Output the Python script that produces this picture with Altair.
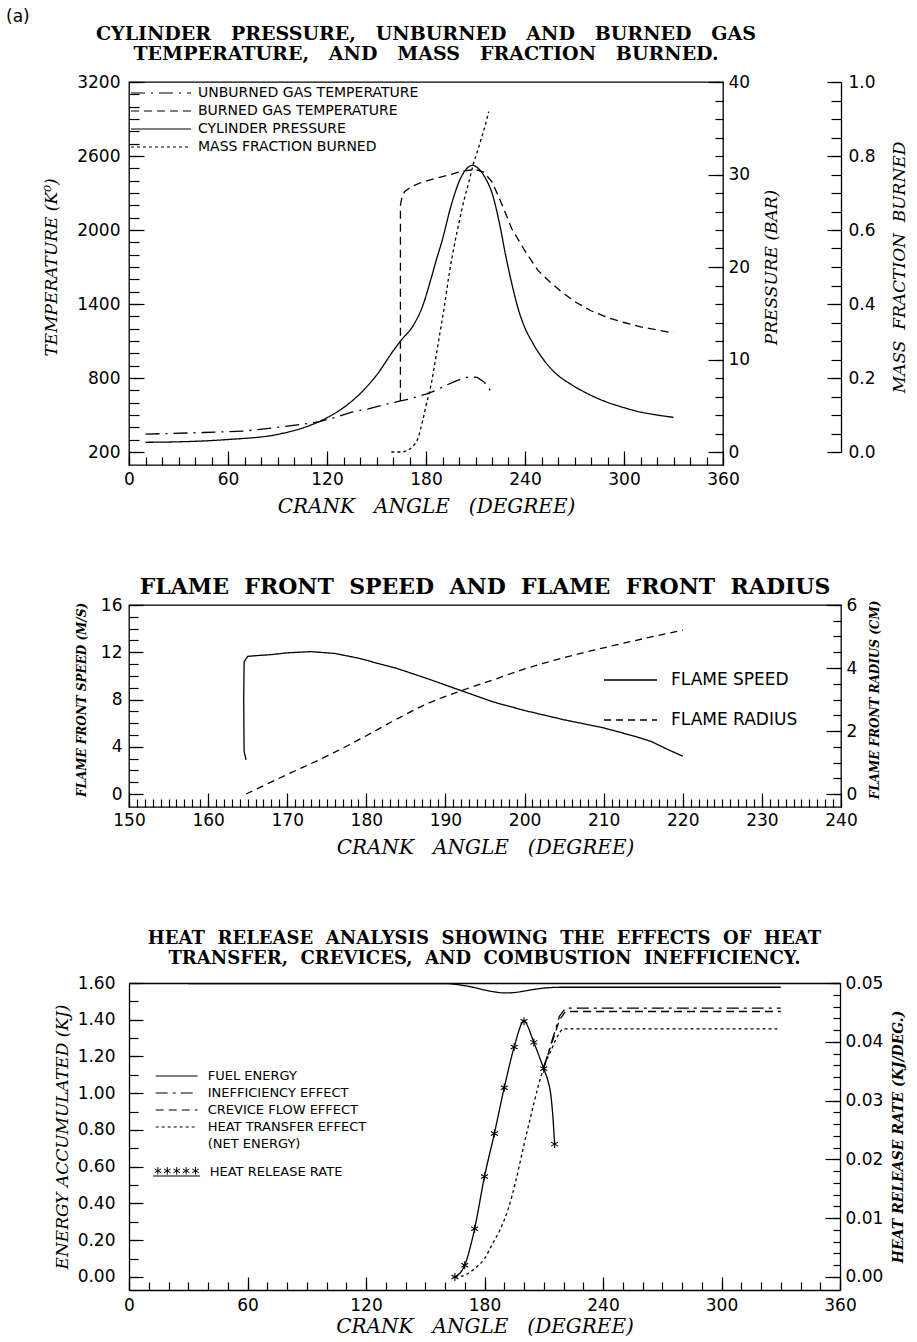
import altair as alt
import pandas as pd

SANS = "DejaVu Sans"
SERIF = "DejaVu Serif"
NB = "\u00a0"


def sp(text, n=2):
    return text.replace(" ", NB * n)


# ---------------- Panel 1 data ----------------
p1_unb_ca = [10, 25, 45, 70, 92, 105, 115, 125, 135, 145, 153, 160, 164.5, 170, 175, 180, 186, 192, 198, 203, 207, 211, 215, 218, 220]
p1_unb_T = [345, 350, 358, 370, 403, 425, 445, 480, 523, 550, 578, 600, 615, 630, 650, 670, 700, 740, 775, 800, 810, 805, 770, 720, 670]
p1_brn_ca = [164.5, 164.5, 165.5, 167, 171, 178, 185, 195, 203, 210, 215, 220, 225, 232, 240, 248, 255, 262, 270, 280, 290, 300, 310, 320, 330]
p1_brn_T = [615, 2200, 2270, 2310, 2350, 2390, 2415, 2450, 2480, 2490, 2470, 2390, 2240, 2010, 1830, 1670, 1580, 1500, 1420, 1345, 1290, 1250, 1215, 1190, 1165]
p1_p_ca = [10, 30, 60, 90, 110, 120, 130, 140, 150, 160, 165, 172, 178, 183, 186, 190, 195, 200, 205, 208, 212, 216, 220, 225, 228, 232, 236, 240, 244, 248, 252, 258, 268, 278, 288, 298, 308, 320, 330]
p1_p = [1.05, 1.1, 1.35, 1.9, 2.9, 3.7, 4.8, 6.3, 8.3, 10.9, 12.1, 13.6, 15.8, 18.7, 20.6, 23.0, 26.5, 29.2, 30.7, 31.0, 30.6, 29.6, 28.0, 24.3, 21.5, 18.2, 15.4, 13.4, 12.0, 10.8, 9.8, 8.6, 7.3, 6.3, 5.5, 4.9, 4.4, 4.0, 3.75]
p1_m_ca = [159, 165, 169, 172, 175, 178, 180, 183, 185, 188, 191, 194, 197, 200, 203, 206, 208.5, 211, 213.5, 216, 218]
p1_m = [0, 0, 0.005, 0.015, 0.036, 0.085, 0.125, 0.18, 0.23, 0.31, 0.39, 0.48, 0.555, 0.62, 0.68, 0.73, 0.775, 0.81, 0.847, 0.885, 0.92]
p1_names = ["UNBURNED GAS TEMPERATURE", "BURNED GAS TEMPERATURE", "CYLINDER PRESSURE", "MASS FRACTION BURNED"]
p1_dashes = [[14, 6, 2, 6], [8, 5], [1, 0], [3, 3]]

p1_x_major = [0, 60, 120, 180, 240, 300, 360]
p1_x_minor = list(range(0, 361, 10))
p1_T_major = [200, 800, 1400, 2000, 2600, 3200]
p1_T_minor = list(range(200, 3201, 100))
p1_P_major = [0, 10, 20, 30, 40]
p1_P_minor = list(range(0, 41, 2))
p1_M_major = [0.0, 0.2, 0.4, 0.6, 0.8, 1.0]
p1_M_minor = [round(0.05 * k, 2) for k in range(21)]

# ---------------- Panel 2 data ----------------
p2_s_ca = [164.8, 164.55, 164.5, 164.55, 165.0, 165.8, 168, 170, 173, 176, 179, 184, 188, 192, 196, 200, 205, 210, 214, 216, 218, 220]
p2_s = [2.9, 3.6, 8.0, 11.2, 11.65, 11.7, 11.8, 11.95, 12.05, 11.9, 11.5, 10.6, 9.7, 8.75, 7.8, 7.07, 6.28, 5.6, 4.87, 4.45, 3.8, 3.2]
p2_r_ca = [164.8, 170, 175, 180, 184, 188, 192, 196, 200, 205, 210, 215, 220]
p2_r = [0.0, 0.62, 1.2, 1.85, 2.4, 2.9, 3.28, 3.62, 3.97, 4.33, 4.64, 4.93, 5.2]
p2_names = ["FLAME SPEED", "FLAME RADIUS"]
p2_dashes = [[1, 0], [7, 5]]

p2_x_major = list(range(150, 241, 10))
p2_x_minor = list(range(150, 241, 1))
p2_S_major = [0, 4, 8, 12, 16]
p2_S_minor = list(range(0, 17, 1))
p2_R_major = [0, 2, 4, 6]
p2_R_minor = [0.5 * k for k in range(13)]

# ---------------- Panel 3 data ----------------
p3_fuel_ca = [30, 160, 165, 170, 175, 180, 185, 190, 195, 200, 205, 210, 215, 220, 330]
p3_fuel = [1.597, 1.597, 1.593, 1.585, 1.575, 1.562, 1.552, 1.546, 1.548, 1.556, 1.565, 1.572, 1.576, 1.577, 1.577]
p3_ineff_ca = [210, 214, 218, 221, 330]
p3_ineff = [1.14, 1.28, 1.42, 1.463, 1.463]
p3_crev_ca = [210, 214, 218, 221, 330]
p3_crev = [1.14, 1.27, 1.40, 1.445, 1.445]
p3_net_ca = [165, 168, 171, 175, 180, 184, 188, 192, 196, 200, 204, 207, 210, 214, 217, 220, 330]
p3_net = [0, 0.003, 0.015, 0.045, 0.1, 0.18, 0.26, 0.37, 0.53, 0.72, 0.9, 1.03, 1.14, 1.24, 1.31, 1.35, 1.35]
p3_hrr_line_ca = [165, 170, 175, 180, 185, 190, 195, 200, 205, 210, 212, 213.5, 214.8, 215.5]
p3_hrr_line = [0, 0.002, 0.0082, 0.0171, 0.0244, 0.0322, 0.0391, 0.0435, 0.0399, 0.0354, 0.0335, 0.0312, 0.0265, 0.0226]
p3_hrr_pt_ca = [165, 170, 175, 180, 185, 190, 195, 200, 205, 210, 215.5]
p3_hrr_pt = [0, 0.002, 0.0082, 0.0171, 0.0244, 0.0322, 0.0391, 0.0435, 0.0399, 0.0354, 0.0226]
p3_names = ["FUEL ENERGY", "INEFFICIENCY EFFECT", "CREVICE FLOW EFFECT", "HEAT TRANSFER EFFECT", "(NET ENERGY)"]
p3_dashes = [[1, 0], [12, 5, 3, 5], [8, 5], [3, 3], [0, 100]]
p3_hrr_name = "HEAT RELEASE RATE"

p3_x_major = [0, 60, 120, 180, 240, 300, 360]
p3_x_minor = list(range(0, 361, 10))
p3_E_major = [0.0, 0.2, 0.4, 0.6, 0.8, 1.0, 1.2, 1.4, 1.6]
p3_E_minor = [round(0.1 * k, 1) for k in range(17)]
p3_R_major = [0.0, 0.01, 0.02, 0.03, 0.04, 0.05]
p3_R_minor = [round(0.002 * k, 3) for k in range(26)]


def frame(ca, v, series):
    return pd.DataFrame({"ca": ca, "v": v, "series": series, "i": list(range(len(ca)))})


BASE = dict(grid=False, tickColor="black", tickWidth=1.2, labelColor="black", titleColor="black",
            labelFlush=False, labelOverlap=False, minExtent=0, domainColor="black", domainWidth=1.3)


def tick_axis(orient, values, size, off=0, labels=False, pad=4, fmt=None, title=None, **kw):
    d = dict(BASE)
    d.update(orient=orient, values=values, tickSize=size, offset=off - size, domain=False, labels=labels)
    if labels:
        d["labelPadding"] = pad
        if fmt:
            d["format"] = fmt
    d["title"] = title
    d.update(kw)
    return alt.Axis(**d)


def domain_axis(orient, off=0):
    d = dict(BASE)
    d.update(orient=orient, offset=off, ticks=False, labels=False, domain=True, title=None)
    return alt.Axis(**d)


def layer(df, xs, ys, xaxis, yaxis, dash=None, **mark):
    enc = dict(x=alt.X("ca:Q", scale=xs, axis=xaxis),
               y=alt.Y("v:Q", scale=ys, axis=yaxis),
               order=alt.Order("i:Q"))
    if dash is not None:
        enc["strokeDash"] = dash
    mk = dict(color="black", strokeWidth=1.3)
    mk.update(mark)
    return alt.Chart(df).mark_line(**mk).encode(**enc)


def dash_enc(names, dashes, legend):
    return alt.StrokeDash("series:N", scale=alt.Scale(domain=names, range=dashes), legend=legend)


def lin(domain, rng=None):
    if rng is None:
        return alt.Scale(domain=domain, nice=False, zero=False)
    return alt.Scale(domain=domain, range=rng, nice=False, zero=False)


XTITLE = sp("CRANK ANGLE (DEGREE)", 3)

# ================= Panel 1 =================
x1 = lin([0, 360])
sT = lin([200, 3200], [370, 0])
sP = lin([0, 40], [370, 0])
sM = lin([0, 1], [370, 0])

leg1 = alt.Legend(title=None, orient="none", legendX=1, legendY=4.5, direction="vertical",
                  symbolType="stroke", symbolSize=3600, symbolStrokeWidth=1.2, symbolStrokeColor="black",
                  clipHeight=13, rowPadding=3, labelFontSize=14, labelOffset=6, labelLimit=600, padding=0)
d1 = dash_enc(p1_names, p1_dashes, leg1)

df_unb = frame(p1_unb_ca, p1_unb_T, p1_names[0])
df_brn = frame(p1_brn_ca, p1_brn_T, p1_names[1])
df_p = frame(p1_p_ca, p1_p, p1_names[2])
df_m = frame(p1_m_ca, p1_m, p1_names[3])

ax_x1 = tick_axis("bottom", p1_x_major, 14, labels=True, pad=6, title=XTITLE,
                  titleFontSize=20, titlePadding=9)
ax_x1m = tick_axis("bottom", p1_x_minor, 8)
ax_T = tick_axis("left", p1_T_major, 15, labels=True, pad=9, fmt="d", title="TEMPERATURE (K⁰)", titlePadding=16)
ax_Tm = tick_axis("left", p1_T_minor, 10)
ax_P = tick_axis("right", p1_P_major, 15, labels=True, pad=5, title="PRESSURE (BAR)",
                 titleAngle=270, titleBaseline="top", titlePadding=14)
ax_Pm = tick_axis("right", p1_P_minor, 8)
ax_M = tick_axis("right", p1_M_major, 14, off=118, labels=True, pad=7, fmt=".1f",
                 title=sp("MASS FRACTION BURNED"), titleAngle=270, titleBaseline="top", titlePadding=16)
ax_Mm = tick_axis("right", p1_M_minor, 10, off=118)
ax_Md = domain_axis("right", 118)

p1 = alt.layer(
    layer(df_unb, x1, sT, ax_x1, ax_T, d1),
    layer(df_brn, x1, sT, ax_x1m, ax_Tm, d1),
    layer(df_p, x1, sP, None, ax_P, d1, interpolate="monotone"),
    layer(df_p, x1, sP, None, ax_Pm, strokeOpacity=0),
    layer(df_m, x1, sM, None, ax_M, d1, interpolate="monotone"),
    layer(df_m, x1, sM, None, ax_Mm, strokeOpacity=0),
    layer(df_m, x1, sM, None, ax_Md, strokeOpacity=0),
).resolve_scale(x="independent", y="independent").properties(
    width=594, height=383,
    title=alt.Title([sp("CYLINDER PRESSURE, UNBURNED AND BURNED GAS", 3),
                     sp("TEMPERATURE, AND MASS FRACTION BURNED.", 3)],
                    fontSize=19, lineHeight=20, offset=9),
)

# ================= Panel 2 =================
x2 = lin([150, 240])
sS = lin([0, 16], [189, 0])
sR = lin([0, 6], [189, 0])

leg2 = alt.Legend(title=None, orient="none", legendX=474, legendY=65, direction="vertical",
                  symbolType="stroke", symbolSize=2809, symbolStrokeWidth=1.3, symbolStrokeColor="black",
                  clipHeight=20, rowPadding=20, labelFontSize=17, labelOffset=13, labelLimit=600, padding=0)
d2 = dash_enc(p2_names, p2_dashes, leg2)
df_s = frame(p2_s_ca, p2_s, p2_names[0])
df_r = frame(p2_r_ca, p2_r, p2_names[1])

ax_x2 = tick_axis("bottom", p2_x_major, 14, labels=True, pad=5, title=XTITLE,
                  titleFontSize=20, titlePadding=9)
ax_x2m = tick_axis("bottom", p2_x_minor, 8)
ax_S = tick_axis("left", p2_S_major, 14, labels=True, pad=7, title="FLAME FRONT SPEED (M/S)",
                 titleFontSize=12, titleFontWeight="bold", titlePadding=12)
ax_Sm = tick_axis("left", p2_S_minor, 9)
ax_R = tick_axis("right", p2_R_major, 15, labels=True, pad=5, title="FLAME FRONT RADIUS (CM)",
                 titleFontSize=12, titleFontWeight="bold", titleAngle=270, titleBaseline="top", titlePadding=13)
ax_Rm = tick_axis("right", p2_R_minor, 8)

p2 = alt.layer(
    layer(df_s, x2, sS, ax_x2, ax_S, d2),
    layer(df_s, x2, sS, ax_x2m, ax_Sm, strokeOpacity=0),
    layer(df_r, x2, sR, None, ax_R, d2, interpolate="monotone"),
    layer(df_r, x2, sR, None, ax_Rm, strokeOpacity=0),
).resolve_scale(x="independent", y="independent").properties(
    width=712, height=202,
    title=alt.Title(sp("FLAME FRONT SPEED AND FLAME FRONT RADIUS"), fontSize=22, offset=-3),
)

# ================= Panel 3 =================
x3 = lin([0, 360])
sE = lin([-0.07075, 1.6], [343, 36])
sH = lin([-0.002211, 0.05], [343, 36])

leg3 = alt.Legend(title=None, orient="none", legendX=25.7, legendY=122.5, direction="vertical",
                  symbolType="stroke", symbolSize=1764, symbolStrokeWidth=1.2, symbolStrokeColor="black",
                  clipHeight=13, rowPadding=3, labelFontSize=13, labelOffset=9, labelLimit=600, padding=0)
d3 = dash_enc(p3_names, p3_dashes, leg3)


def star(cx, cy, r):
    return (f"M{cx:.3f},{cy - r:.3f}L{cx:.3f},{cy + r:.3f}"
            f"M{cx - 0.87 * r:.3f},{cy - 0.5 * r:.3f}L{cx + 0.87 * r:.3f},{cy + 0.5 * r:.3f}"
            f"M{cx - 0.87 * r:.3f},{cy + 0.5 * r:.3f}L{cx + 0.87 * r:.3f},{cy - 0.5 * r:.3f}")


ASTER = star(0, 0, 1)
STARS = "M-1,0.17L1,0.17" + "".join(star(c, -0.05, 0.16) for c in (-0.8, -0.4, 0.0, 0.4, 0.8))

leg3b = alt.Legend(title=None, orient="none", legendX=23.7, legendY=218, direction="vertical",
                   symbolType=STARS, symbolSize=2209, symbolStrokeWidth=1.0, symbolStrokeColor="black",
                   symbolFillColor="transparent", symbolOpacity=1,
                   clipHeight=14, labelFontSize=13, labelOffset=9, labelLimit=600, padding=0)

df_fuel = frame(p3_fuel_ca, p3_fuel, p3_names[0])
df_ineff = frame(p3_ineff_ca, p3_ineff, p3_names[1])
df_crev = frame(p3_crev_ca, p3_crev, p3_names[2])
df_net = frame(p3_net_ca, p3_net, p3_names[3])
df_hl = frame(p3_hrr_line_ca, p3_hrr_line, p3_hrr_name)
df_hp = frame(p3_hrr_pt_ca, p3_hrr_pt, p3_hrr_name)

ax_x3 = tick_axis("bottom", p3_x_major, 13, labels=True, pad=7, title=XTITLE,
                  titleFontSize=20, titlePadding=3)
ax_x3m = tick_axis("bottom", p3_x_minor, 8)
ax_x3top = domain_axis("top", -36)
ax_x3bot = domain_axis("bottom", 0)
ax_E = tick_axis("left", p3_E_major, 14, labels=True, pad=14, fmt=".2f",
                 title=sp("ENERGY ACCUMULATED (KJ)", 1), titlePadding=6)
ax_Em = tick_axis("left", p3_E_minor, 9)
ax_Ed = domain_axis("left", 0)
ax_H = tick_axis("right", p3_R_major, 15, labels=True, pad=5, fmt=".2f", title="HEAT RELEASE RATE (KJ/DEG.)",
                 titleFontSize=14, titleFontWeight="bold", titleAngle=270, titleBaseline="top", titlePadding=9)
ax_Hm = tick_axis("right", p3_R_minor, 7)
ax_Hd = domain_axis("right", 0)

pts = alt.Chart(df_hp).mark_point(shape=ASTER, filled=False, size=64, strokeWidth=1.1, opacity=1).encode(
    x=alt.X("ca:Q", scale=x3, axis=None),
    y=alt.Y("v:Q", scale=sH, axis=ax_Hm),
    color=alt.Color("series:N", scale=alt.Scale(domain=[p3_hrr_name], range=["black"]), legend=leg3b),
)

p3 = alt.layer(
    layer(df_fuel, x3, sE, ax_x3, ax_E, d3, interpolate="monotone"),
    layer(df_ineff, x3, sE, ax_x3m, ax_Em, d3),
    layer(df_crev, x3, sE, ax_x3top, ax_Ed, d3),
    layer(df_net, x3, sE, ax_x3bot, None, d3, interpolate="monotone"),
    layer(df_hl, x3, sH, None, ax_H, interpolate="monotone"),
    pts,
    layer(df_hl, x3, sH, None, ax_Hd, strokeOpacity=0),
).resolve_scale(x="independent", y="independent").properties(
    width=711, height=343,
    view=alt.ViewBackground(stroke="transparent"),
    title=alt.Title([sp("HEAT RELEASE ANALYSIS SHOWING THE EFFECTS OF HEAT"),
                     sp("TRANSFER, CREVICES, AND COMBUSTION INEFFICIENCY.")],
                    fontSize=18, lineHeight=20, offset=-21),
)

chart = alt.vconcat(p1, p2, p3, spacing=140, bounds="flush").resolve_scale(
    strokeDash="independent", color="independent"
).properties(
    title=alt.Title("(a)", anchor="start", frame="group", dx=-123, offset=-2, font=SANS,
                    fontSize=17, fontWeight="normal", color="black"),
    padding={"left": 6, "top": 8, "right": 2, "bottom": 4},
).configure_view(stroke="black", strokeWidth=1.3).configure_axis(
    labelFont=SANS, labelFontSize=17, titleFont=SERIF, titleFontStyle="italic",
    titleFontWeight="normal", titleFontSize=17, grid=False,
).configure_legend(labelFont=SANS, labelColor="black").configure_title(
    font=SERIF, fontWeight="bold", color="black", anchor="middle"
)

chart.save("out.html", embed_options={"renderer": "svg", "actions": False})
